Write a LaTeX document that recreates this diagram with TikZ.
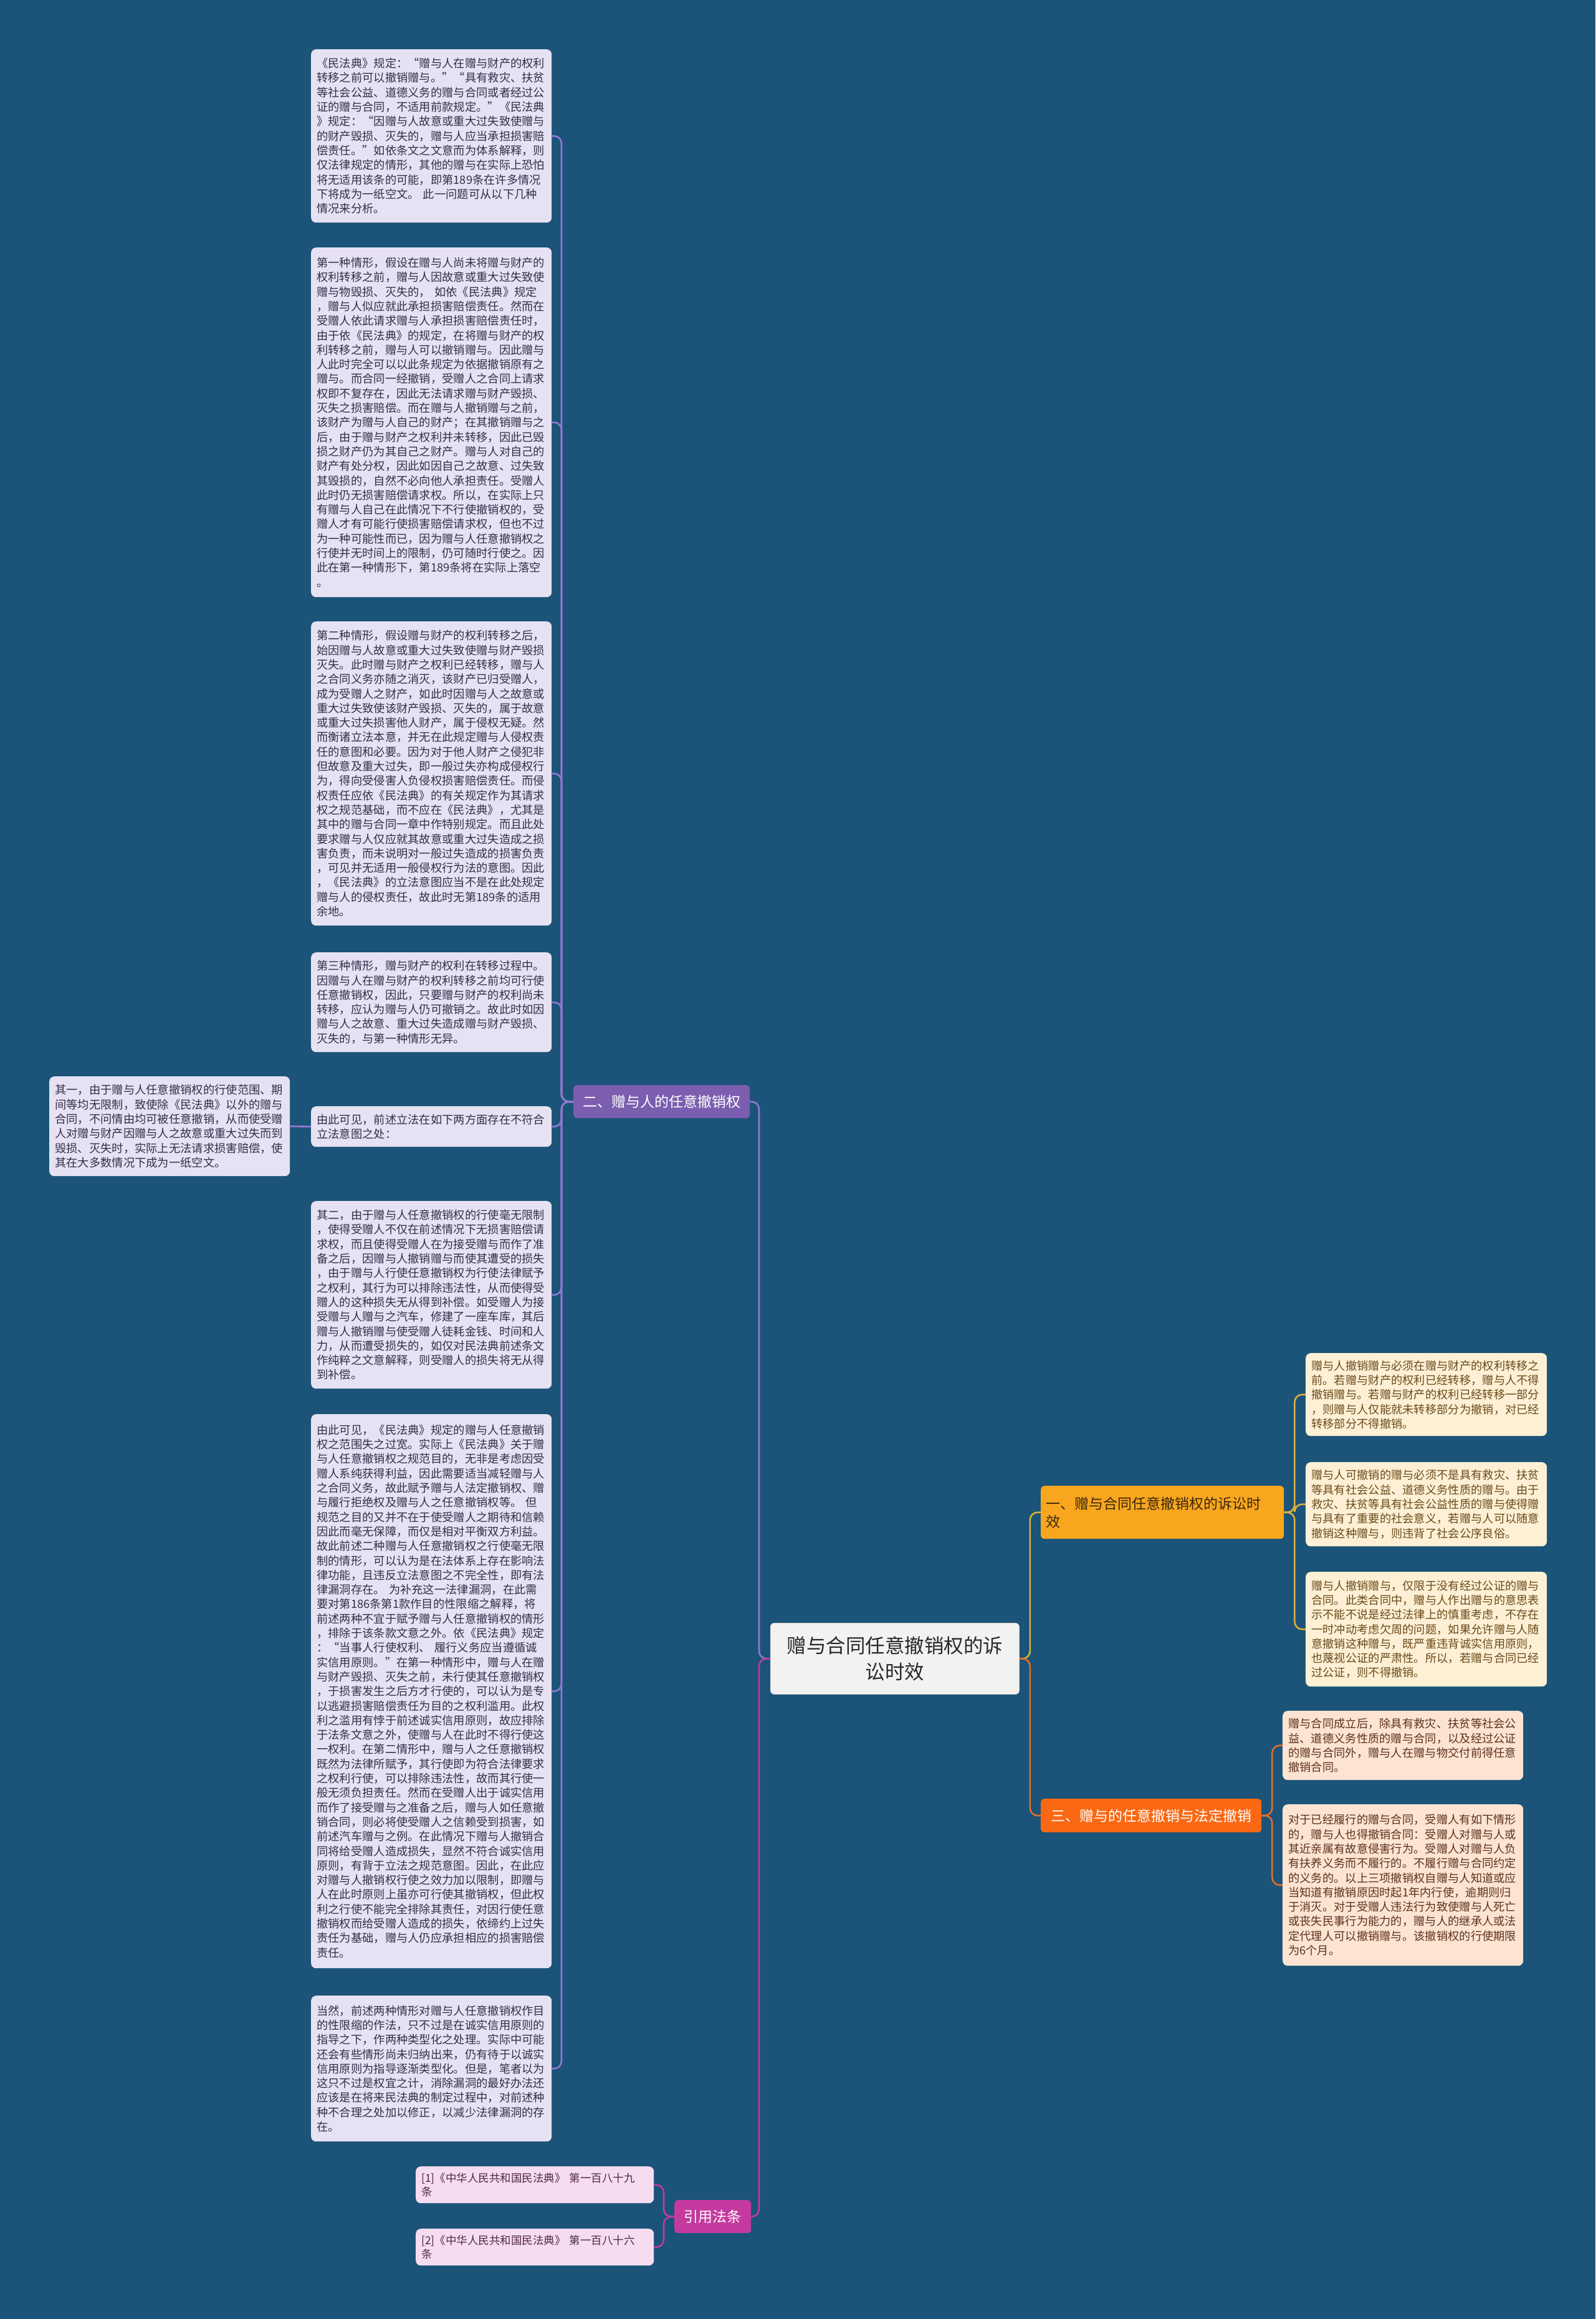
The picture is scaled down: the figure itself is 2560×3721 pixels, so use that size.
\documentclass[tikz,border=0pt]{standalone}
\usepackage{fontspec}
\setmainfont{Noto Sans CJK SC}
\definecolor{bg}{RGB}{27,84,120}
\definecolor{lavfill}{RGB}{230,226,243}
\definecolor{lavtext}{RGB}{52,46,72}
\definecolor{crfill}{RGB}{253,240,212}
\definecolor{crtext}{RGB}{106,74,28}
\definecolor{pcfill}{RGB}{253,227,210}
\definecolor{pctext}{RGB}{92,50,30}
\definecolor{pkfill}{RGB}{245,220,240}
\definecolor{pktext}{RGB}{80,40,70}
\definecolor{purpbr}{RGB}{124,94,176}
\definecolor{purpln}{RGB}{150,120,210}
\definecolor{magbr}{RGB}{196,58,158}
\definecolor{ambbr}{RGB}{248,166,30}
\definecolor{ambln}{RGB}{218,176,60}
\definecolor{ambtext}{RGB}{58,40,12}
\definecolor{orbr}{RGB}{250,104,20}
\definecolor{orln}{RGB}{226,110,44}
\definecolor{ctrfill}{RGB}{242,242,242}
\definecolor{ctrtext}{RGB}{40,40,40}
\tikzset{
  leafbase/.style={anchor=north west, rounded corners=8pt, align=left,
    inner xsep=9pt, inner ysep=0pt, font=\fontsize{18.3}{23.3}\selectfont},
  lavleaf/.style={leafbase, fill=lavfill, text=lavtext, text width=368pt},
  crleaf/.style={leafbase, fill=crfill, text=crtext, text width=369pt},
  pcleaf/.style={leafbase, fill=pcfill, text=pctext, text width=368pt},
  pkleaf/.style={leafbase, fill=pkfill, text=pktext, text width=364pt,
    font=\fontsize{17.5}{22}\selectfont},
  branchbox/.style={anchor=north west, rounded corners=6pt, inner sep=0pt,
    font=\fontsize{23}{29}\selectfont},
  conn/.style={line width=2.6pt, rounded corners=12pt}
}
\begin{document}
\begin{tikzpicture}[x=1pt,y=-1pt]
\useasboundingbox (0,0) rectangle (2560,3721);
\fill[bg] (0,0) rectangle (2560,3721);

% center
\node[anchor=north west, rounded corners=6pt, fill=ctrfill, draw=gray!30, line width=0.8pt,
  minimum width=399pt, minimum height=114pt, inner sep=0pt, align=center, text=ctrtext,
  font=\fontsize{31.5}{42}\selectfont] (ctr) at (1236,2604) {赠与合同任意撤销权的诉\\讼时效};

% branches
\node[branchbox, fill=purpbr, text=white, minimum width=283pt, minimum height=53pt] (b2) at (920,1741) {二、赠与人的任意撤销权};
\node[branchbox, fill=magbr, text=white, minimum width=123pt, minimum height=53pt] (bref) at (1082,3530) {引用法条};
\node[branchbox, fill=ambbr, text=ambtext, text width=374pt, align=left, inner xsep=8pt, minimum height=85pt] (b1) at (1670,2384) {一、赠与合同任意撤销权的诉讼时\\效};
\node[branchbox, fill=orbr, text=white, minimum width=354pt, minimum height=54pt] (b3) at (1670,2886) {三、赠与的任意撤销与法定撤销};

% left leaves
\node[lavleaf, minimum height=278pt] (a1) at (499,79) {《民法典》规定：“赠与人在赠与财产的权利\\转移之前可以撤销赠与。”“具有救灾、扶贫\\等社会公益、道德义务的赠与合同或者经过公\\证的赠与合同，不适用前款规定。”《民法典\\》规定：“因赠与人故意或重大过失致使赠与\\的财产毁损、灭失的，赠与人应当承担损害赔\\偿责任。”如依条文之文意而为体系解释，则\\仅法律规定的情形，其他的赠与在实际上恐怕\\将无适用该条的可能，即第189条在许多情况\\下将成为一纸空文。~此一问题可从以下几种\\情况来分析。};

\node[lavleaf, minimum height=561pt] (a2) at (499,397) {第一种情形，假设在赠与人尚未将赠与财产的\\权利转移之前，赠与人因故意或重大过失致使\\赠与物毁损、灭失的，~如依《民法典》规定\\，赠与人似应就此承担损害赔偿责任。然而在\\受赠人依此请求赠与人承担损害赔偿责任时，\\由于依《民法典》的规定，在将赠与财产的权\\利转移之前，赠与人可以撤销赠与。因此赠与\\人此时完全可以以此条规定为依据撤销原有之\\赠与。而合同一经撤销，受赠人之合同上请求\\权即不复存在，因此无法请求赠与财产毁损、\\灭失之损害赔偿。而在赠与人撤销赠与之前，\\该财产为赠与人自己的财产；在其撤销赠与之\\后，由于赠与财产之权利并未转移，因此已毁\\损之财产仍为其自己之财产。赠与人对自己的\\财产有处分权，因此如因自己之故意、过失致\\其毁损的，自然不必向他人承担责任。受赠人\\此时仍无损害赔偿请求权。所以，在实际上只\\有赠与人自己在此情况下不行使撤销权的，受\\赠人才有可能行使损害赔偿请求权，但也不过\\为一种可能性而已，因为赠与人任意撤销权之\\行使并无时间上的限制，仍可随时行使之。因\\此在第一种情形下，第189条将在实际上落空\\。};

\node[lavleaf, minimum height=488pt] (a3) at (499,997) {第二种情形，假设赠与财产的权利转移之后，\\始因赠与人故意或重大过失致使赠与财产毁损\\灭失。此时赠与财产之权利已经转移，赠与人\\之合同义务亦随之消灭，该财产已归受赠人，\\成为受赠人之财产，如此时因赠与人之故意或\\重大过失致使该财产毁损、灭失的，属于故意\\或重大过失损害他人财产，属于侵权无疑。然\\而衡诸立法本意，并无在此规定赠与人侵权责\\任的意图和必要。因为对于他人财产之侵犯非\\但故意及重大过失，即一般过失亦构成侵权行\\为，得向受侵害人负侵权损害赔偿责任。而侵\\权责任应依《民法典》的有关规定作为其请求\\权之规范基础，而不应在《民法典》，尤其是\\其中的赠与合同一章中作特别规定。而且此处\\要求赠与人仅应就其故意或重大过失造成之损\\害负责，而未说明对一般过失造成的损害负责\\，可见并无适用一般侵权行为法的意图。因此\\，《民法典》的立法意图应当不是在此处规定\\赠与人的侵权责任，故此时无第189条的适用\\余地。};

\node[lavleaf, minimum height=160pt] (a4) at (499,1528) {第三种情形，赠与财产的权利在转移过程中。\\因赠与人在赠与财产的权利转移之前均可行使\\任意撤销权，因此，只要赠与财产的权利尚未\\转移，应认为赠与人仍可撤销之。故此时如因\\赠与人之故意、重大过失造成赠与财产毁损、\\灭失的，与第一种情形无异。};

\node[lavleaf, minimum height=65pt] (a5) at (499,1775) {由此可见，前述立法在如下两方面存在不符合\\立法意图之处：};

\node[lavleaf, minimum height=160pt] (q1) at (79,1727) {其一，由于赠与人任意撤销权的行使范围、期\\间等均无限制，致使除《民法典》以外的赠与\\合同，不问情由均可被任意撤销，从而使受赠\\人对赠与财产因赠与人之故意或重大过失而到\\毁损、灭失时，实际上无法请求损害赔偿，使\\其在大多数情况下成为一纸空文。};

\node[lavleaf, minimum height=301pt] (a6) at (499,1927) {其二，由于赠与人任意撤销权的行使毫无限制\\，使得受赠人不仅在前述情况下无损害赔偿请\\求权，而且使得受赠人在为接受赠与而作了准\\备之后，因赠与人撤销赠与而使其遭受的损失\\，由于赠与人行使任意撤销权为行使法律赋予\\之权利，其行为可以排除违法性，从而使得受\\赠人的这种损失无从得到补偿。如受赠人为接\\受赠与人赠与之汽车，修建了一座车库，其后\\赠与人撤销赠与使受赠人徒耗金钱、时间和人\\力，从而遭受损失的，如仅对民法典前述条文\\作纯粹之文意解释，则受赠人的损失将无从得\\到补偿。};

\node[lavleaf, minimum height=889pt] (a7) at (499,2269) {由此可见，《民法典》规定的赠与人任意撤销\\权之范围失之过宽。实际上《民法典》关于赠\\与人任意撤销权之规范目的，无非是考虑因受\\赠人系纯获得利益，因此需要适当减轻赠与人\\之合同义务，故此赋予赠与人法定撤销权、赠\\与履行拒绝权及赠与人之任意撤销权等。~但\\规范之目的又并不在于使受赠人之期待和信赖\\因此而毫无保障，而仅是相对平衡双方利益。\\故此前述二种赠与人任意撤销权之行使毫无限\\制的情形，可以认为是在法体系上存在影响法\\律功能，且违反立法意图之不完全性，即有法\\律漏洞存在。~为补充这一法律漏洞，在此需\\要对第186条第1款作目的性限缩之解释，将\\前述两种不宜于赋予赠与人任意撤销权的情形\\，排除于该条款文意之外。依《民法典》规定\\：“当事人行使权利、~履行义务应当遵循诚\\实信用原则。”在第一种情形中，赠与人在赠\\与财产毁损、灭失之前，未行使其任意撤销权\\，于损害发生之后方才行使的，可以认为是专\\以逃避损害赔偿责任为目的之权利滥用。此权\\利之滥用有悖于前述诚实信用原则，故应排除\\于法条文意之外，使赠与人在此时不得行使这\\一权利。在第二情形中，赠与人之任意撤销权\\既然为法律所赋予，其行使即为符合法律要求\\之权利行使，可以排除违法性，故而其行使一\\般无须负担责任。然而在受赠人出于诚实信用\\而作了接受赠与之准备之后，赠与人如任意撤\\销合同，则必将使受赠人之信赖受到损害，如\\前述汽车赠与之例。在此情况下赠与人撤销合\\同将给受赠人造成损失，显然不符合诚实信用\\原则，有背于立法之规范意图。因此，在此应\\对赠与人撤销权行使之效力加以限制，即赠与\\人在此时原则上虽亦可行使其撤销权，但此权\\利之行使不能完全排除其责任，对因行使任意\\撤销权而给受赠人造成的损失，依缔约上过失\\责任为基础，赠与人仍应承担相应的损害赔偿\\责任。};

\node[lavleaf, minimum height=234pt] (a8) at (499,3202) {当然，前述两种情形对赠与人任意撤销权作目\\的性限缩的作法，只不过是在诚实信用原则的\\指导之下，作两种类型化之处理。实际中可能\\还会有些情形尚未归纳出来，仍有待于以诚实\\信用原则为指导逐渐类型化。但是，笔者以为\\这只不过是权宜之计，消除漏洞的最好办法还\\应该是在将来民法典的制定过程中，对前述种\\种不合理之处加以修正，以减少法律漏洞的存\\在。};

% references
\node[pkleaf, minimum height=59pt] (r1) at (667,3476) {[1]《中华人民共和国民法典》~第一百八十九\\条};
\node[pkleaf, minimum height=59pt] (r2) at (667,3576) {[2]《中华人民共和国民法典》~第一百八十六\\条};

% right leaves (branch 1)
\node[crleaf, minimum height=133pt] (y1) at (2095,2171) {赠与人撤销赠与必须在赠与财产的权利转移之\\前。若赠与财产的权利已经转移，赠与人不得\\撤销赠与。若赠与财产的权利已经转移一部分\\，则赠与人仅能就未转移部分为撤销，对已经\\转移部分不得撤销。};
\node[crleaf, minimum height=135pt] (y2) at (2095,2346) {赠与人可撤销的赠与必须不是具有救灾、扶贫\\等具有社会公益、道德义务性质的赠与。由于\\救灾、扶贫等具有社会公益性质的赠与使得赠\\与具有了重要的社会意义，若赠与人可以随意\\撤销这种赠与，则违背了社会公序良俗。};
\node[crleaf, minimum height=184pt] (y3) at (2095,2522) {赠与人撤销赠与，仅限于没有经过公证的赠与\\合同。此类合同中，赠与人作出赠与的意思表\\示不能不说是经过法律上的慎重考虑，不存在\\一时冲动考虑欠周的问题，如果允许赠与人随\\意撤销这种赠与，既严重违背诚实信用原则，\\也蔑视公证的严肃性。所以，若赠与合同已经\\过公证，则不得撤销。};

% right leaves (branch 3)
\node[pcleaf, minimum height=111pt] (o1) at (2058,2745) {赠与合同成立后，除具有救灾、扶贫等社会公\\益、道德义务性质的赠与合同，以及经过公证\\的赠与合同外，赠与人在赠与物交付前得任意\\撤销合同。};
\node[pcleaf, minimum height=259pt] (o2) at (2058,2895) {对于已经履行的赠与合同，受赠人有如下情形\\的，赠与人也得撤销合同：受赠人对赠与人或\\其近亲属有故意侵害行为。受赠人对赠与人负\\有扶养义务而不履行的。不履行赠与合同约定\\的义务的。以上三项撤销权自赠与人知道或应\\当知道有撤销原因时起1年内行使，逾期则归\\于消灭。对于受赠人违法行为致使赠与人死亡\\或丧失民事行为能力的，赠与人的继承人或法\\定代理人可以撤销赠与。该撤销权的行使期限\\为6个月。};

% connectors: center to branches
\draw[conn, purpln] (ctr.west) -- ++(-18,0) |- (b2.east);
\draw[conn, magbr] (ctr.west) -- ++(-18,0) |- (bref.east);
\draw[conn, ambln] (ctr.east) -- ++(17,0) |- (b1.west);
\draw[conn, orln] (ctr.east) -- ++(17,0) |- (b3.west);

% branch 2 children
\foreach \n in {a1,a2,a3,a4,a5,a6,a7,a8}{
  \draw[conn, purpln] (b2.west) -- ++(-19,0) |- (\n.east);
}
\draw[conn, purpln] (a5.west) -- (q1.east);

% references
\foreach \n in {r1,r2}{
  \draw[conn, magbr] (bref.west) -- ++(-17,0) |- (\n.east);
}

% branch 1 children
\foreach \n in {y1,y2,y3}{
  \draw[conn, ambln] (b1.east) -- ++(17,0) |- (\n.west);
}
% branch 3 children
\foreach \n in {o1,o2}{
  \draw[conn, orln] (b3.east) -- ++(17,0) |- (\n.west);
}
\end{tikzpicture}
\end{document}
